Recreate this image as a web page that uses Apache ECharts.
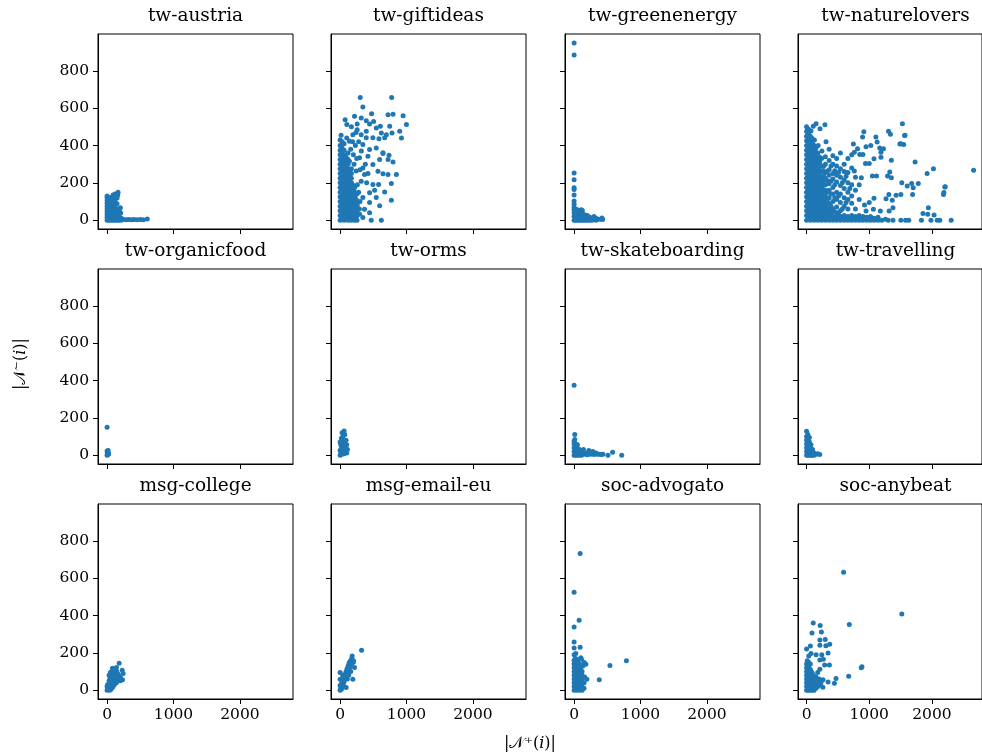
<!DOCTYPE html>
<html>
<head>
<meta charset="utf-8">
<script src="https://cdn.jsdelivr.net/npm/echarts@6/dist/echarts.min.js"></script>
<style>
  html, body { margin: 0; padding: 0; background: #fff; }
  #chart { width: 982px; height: 755px; }
</style>
</head>
<body>
<div id="chart"></div>
<script>
// degree scatter: |N+(i)| (x) against |N-(i)| (y), one panel per dataset
const panelNames = [
  "tw-austria", "tw-giftideas", "tw-greenenergy", "tw-naturelovers",
  "tw-organicfood", "tw-orms", "tw-skateboarding", "tw-travelling",
  "msg-college", "msg-email-eu", "soc-advogato", "soc-anybeat"
];

const xTicks = [0, 1000, 2000];
const yTicks = [0, 200, 400, 600, 800];

const austria = [
  [0,0],[0,15],[0,30],[0,45],[0,60],[0,75],[0,90],[0,105],[0,120],[0,130],
  [30,0],[30,15],[30,30],[30,45],[30,60],[30,75],[30,90],[30,105],[30,115],
  [60,0],[60,15],[60,30],[60,45],[60,60],[60,75],[60,90],[60,100],[60,122],
  [90,0],[90,15],[90,30],[90,45],[90,60],[90,75],[90,92],[90,110],[90,135],
  [120,0],[120,15],[120,30],[120,45],[120,62],[120,80],[120,100],[120,125],[120,140],
  [150,0],[150,18],[150,38],[150,60],[150,88],[150,118],[165,150],[160,135],
  [180,0],[180,15],[180,32],[185,55],
  [210,0],[210,12],[205,38],[200,66],
  [245,4],[285,2],[325,4],[365,2],[405,3],[450,2],[500,3],[545,2],[605,6]
];

const giftideas = [
  [0,0],[0,25],[0,50],[0,75],[0,100],[0,125],[0,150],[0,175],[0,200],[0,225],[0,250],
  [0,275],[0,300],[0,325],[0,350],[0,375],[0,400],
  [30,12],[30,37],[30,62],[30,87],[30,112],[30,137],[30,162],[30,187],[30,212],[30,237],
  [30,262],[30,287],[30,312],[30,337],[30,362],[30,387],
  [60,0],[60,25],[60,50],[60,75],[60,100],[60,125],[60,150],[60,175],[60,200],[60,225],
  [60,250],[60,275],[60,300],[60,325],[60,350],[60,375],
  [90,12],[90,37],[90,62],[90,87],[90,112],[90,137],[90,162],[90,187],[90,212],[90,237],
  [90,262],[90,287],[90,312],[90,337],
  [120,0],[120,25],[120,50],[120,75],[120,100],[120,125],[120,150],[120,175],[120,200],
  [120,225],[120,250],[120,275],[120,300],[120,325],
  [145,12],[145,37],[145,62],[145,87],[145,112],[145,137],[145,162],[145,187],[145,212],
  [145,237],[145,262],
  [170,0],[170,25],[170,50],[170,75],[170,100],[170,125],[170,150],[170,175],[170,200],
  [170,225],[170,250],[170,275],
  [195,12],[195,37],[195,62],[195,87],[195,112],[195,137],[195,162],[195,187],
  [220,0],[220,25],[220,50],[220,75],[220,100],[220,125],[220,150],[220,175],
  [240,12],[240,37],[240,62],[240,87],[240,112],
  [255,0],[255,25],[255,50],[255,75],[255,100],[255,140],
  [303,657],[777,657],[343,606],[474,570],[722,565],[797,568],[949,560],[999,512],
  [898,476],[924,440],[747,503],[782,467],[848,245],[772,107],[621,0],[469,0],
  [343,14],[596,77],[444,40],[671,151],[772,197],[797,312],[737,348],[646,357],
  [76,538],[101,512],[217,557],[318,548],[394,533],[257,515],[444,515],[505,529],
  [545,494],[606,503],[621,467],[697,458],[671,441],[585,436],[494,441],[394,476],
  [318,458],[192,458],[141,423],[15,455],[0,430],[343,405],[444,378],[545,387],
  [646,361],[596,325],[494,298],[722,325],[570,262],[646,248],[722,245],[580,191],
  [494,191],[444,147],[545,121],[444,94],[368,58],[343,121],[318,209],[343,280],
  [419,342],[293,334],[242,263],[368,245],[141,316],[394,441],[257,485],[293,32],
  [257,85],[520,160],[230,400],[280,150],[210,300],[260,190],[60,410],[100,440],
  [200,350],[160,380],[280,420],[300,270],[380,300],[240,470],[170,500],[320,370],
  [30,420],[120,360],[250,330],[290,60],[300,100],[190,420],[400,200],[420,250]
];

const greenenergy = [
  [0,949],[0,885],[0,253],[0,217],[0,174],[0,164],[0,135],[0,103],[0,85],[0,68],
  [0,0],[0,20],[0,40],[0,55],[25,0],[25,20],[25,40],[25,58],[50,0],[50,20],[50,40],[50,55],
  [80,0],[80,18],[80,35],[80,52],[110,0],[110,20],[110,40],[110,55],[125,50],
  [140,0],[140,15],[140,30],[170,0],[170,15],[170,28],[200,0],[200,12],[200,25],
  [235,0],[235,15],[270,0],[270,10],[300,5],[300,20],[330,0],[330,10],[360,5],
  [395,5],[420,12],[430,3]
];

const naturelovers = [
  [0,0],[0,25],[0,50],[0,75],[0,100],[0,125],[0,150],[0,175],[0,200],[0,225],[0,250],
  [0,275],[0,300],[0,325],[0,350],[0,375],[0,400],[0,425],[0,450],[0,475],[0,500],
  [30,12],[30,37],[30,62],[30,87],[30,112],[30,137],[30,162],[30,187],[30,212],[30,237],
  [30,262],[30,287],[30,312],[30,337],[30,362],[30,387],[30,412],[30,437],[30,462],[30,487],
  [60,0],[60,25],[60,50],[60,75],[60,100],[60,125],[60,150],[60,175],[60,200],[60,225],
  [60,250],[60,275],[60,300],[60,325],[60,350],[60,375],[60,400],[60,425],[60,450],[70,478],
  [90,12],[90,37],[90,62],[90,87],[90,112],[90,137],[90,162],[90,187],[90,212],[90,237],
  [90,262],[90,287],[90,312],[90,337],[90,362],[90,387],[90,412],[90,437],
  [120,0],[120,25],[120,50],[120,75],[120,100],[120,125],[120,150],[120,175],[120,200],
  [120,225],[120,250],[120,275],[120,300],[120,325],[120,350],[120,375],[120,400],[125,430],
  [150,12],[150,37],[150,62],[150,87],[150,112],[150,137],[150,162],[150,187],[150,212],
  [150,237],[150,262],[150,287],[150,312],[150,337],[150,362],[150,387],
  [180,0],[180,25],[180,50],[180,75],[180,100],[180,125],[180,150],[180,175],[180,200],
  [180,225],[180,250],[180,275],[180,300],[180,330],[180,360],[185,400],
  [210,12],[210,37],[210,62],[210,87],[210,112],[210,137],[210,162],[210,187],[210,212],
  [210,237],[210,262],[210,287],[210,312],[210,337],
  [240,0],[240,25],[240,50],[240,75],[240,100],[240,125],[240,150],[240,175],[240,200],
  [240,230],[240,260],[240,290],[240,330],[245,370],
  [270,12],[270,37],[270,62],[270,87],[270,112],[270,137],[270,162],[270,187],[270,212],
  [270,237],[270,262],[270,287],
  [300,0],[300,25],[300,50],[300,75],[300,100],[300,130],[300,160],[300,190],[300,225],
  [300,255],[300,300],[300,340],[310,420],
  [330,12],[330,37],[330,62],[330,87],[330,112],[330,150],[330,212],[330,262],
  [360,0],[360,25],[360,55],[360,90],[360,120],[360,160],[360,195],[360,240],[360,270],
  [360,320],[360,380],
  [390,10],[390,40],[390,75],[390,140],[390,210],[390,290],
  [420,0],[420,20],[420,60],[420,100],[420,140],[420,175],[420,220],[420,250],[420,300],[420,345],
  [450,12],[450,45],[450,120],[450,190],[450,265],
  [480,0],[480,25],[480,70],[480,110],[480,150],[480,205],[480,240],[480,290],[480,330],
  [510,10],[510,40],[510,130],[510,255],
  [540,0],[540,20],[540,50],[540,95],[540,140],[540,185],[540,230],[540,275],[540,360],
  [570,10],[570,60],[570,200],
  [600,0],[600,25],[600,75],[600,120],[600,170],[600,215],[600,260],[600,300],
  [630,10],[630,95],[630,235],
  [660,0],[660,20],[660,60],[660,110],[660,150],[660,200],[660,255],[660,330],
  [690,10],[690,170],
  [720,0],[720,25],[720,90],[720,130],[720,190],[720,280],[720,350],
  [750,10],[780,0],[780,20],[780,60],[780,160],[780,230],[810,10],
  [840,0],[840,25],[840,110],[840,190],[870,10],
  [900,0],[900,20],[960,0],[960,15],[1020,0],[1020,20],[1080,0],[1080,10],[1140,0],
  [1140,15],[1200,0],[1260,5],
  [15,485],[152,517],[215,490],[293,511],[106,503],
  [1530,517],[914,473],[1308,476],[1338,460],[894,446],[1106,446],[1571,455],[1490,408],
  [1550,405],[747,408],[1126,419],[1167,387],[1227,382],[949,393],[1025,400],[813,382],
  [899,352],[849,352],[762,364],[1076,329],[1187,337],[1187,364],[1353,321],[1732,311],
  [940,304],[1000,304],[2025,276],[1924,250],[2666,268],[1328,258],[1293,236],[1353,227],
  [1116,236],[1050,236],[874,227],[762,263],[646,254],[1520,201],[1606,183],[1783,197],
  [1702,174],[2212,179],[2186,138],[1692,138],[1505,138],[1429,133],[1313,138],[1368,106],
  [1268,115],[1076,117],[1000,94],[924,81],[1379,67],[1944,67],[1318,49],[1177,49],
  [1066,58],[949,49],[1858,35],[1934,32],[2035,28],[2126,0],[2086,0],[1985,0],
  [1833,0],[1631,0],[1581,0],[1505,0],[1379,0],[1303,0],[2308,0],[2192,148],[2207,178],
  [1677,196],[1565,454],[1505,409]
];

const organicfood = [
  [0,0],[5,8],[12,3],[18,12],[8,18],[0,22],[15,25],[22,6],[3,12],[10,10],[0,150]
];

const orms = [
  [0,0],[15,10],[30,5],[45,15],[60,8],[80,20],[100,12],[0,25],[20,35],[40,30],[60,45],
  [80,40],[100,55],[10,55],[30,65],[50,75],[70,60],[90,80],[20,90],[45,100],[70,110],
  [60,130],[30,120],[0,70],[110,30]
];

const skateboarding = [
  [0,374],[10,110],[10,84],[0,0],[0,20],[0,40],[0,60],[0,75],[25,0],[25,20],[25,40],[25,60],
  [50,0],[50,18],[50,35],[50,55],[80,0],[80,15],[80,30],[110,0],[110,12],[141,30],[150,5],
  [180,10],[222,25],[200,2],[250,5],[283,20],[300,3],[333,12],[350,5],[384,5],[410,3],
  [434,5],[510,0],[580,16],[717,0]
];

const travelling = [
  [0,0],[0,20],[0,40],[0,60],[0,80],[0,100],[0,128],[20,0],[20,20],[20,40],[20,60],[20,85],
  [20,110],[45,0],[45,20],[45,45],[45,70],[45,95],[70,0],[70,15],[70,35],[70,55],[95,0],
  [95,15],[95,30],[120,0],[120,12],[150,5],[180,8],[210,3]
];

const college = [
  [0,0],[10,10],[20,5],[20,25],[35,15],[35,35],[50,20],[50,45],[65,30],[65,55],[80,40],
  [80,70],[95,45],[95,80],[110,55],[110,90],[125,60],[125,95],[140,70],[145,100],[160,80],
  [0,20],[10,30],[30,50],[45,65],[60,80],[81,117],[141,121],[182,144],[227,107],[242,89],
  [232,55],[167,85],[120,110],[100,100],[180,60],[200,70],[150,50],[30,80],[50,95],
  [70,100],[90,110],[60,60],[100,70],[120,75],[140,40],[170,55],[200,50],[110,30],[90,20],
  [40,0],[60,5],[80,15]
];

const emailEu = [
  [0,0],[10,10],[20,5],[0,25],[15,30],[30,20],[30,40],[45,35],[45,55],[60,45],[60,70],
  [75,60],[75,85],[90,70],[90,100],[105,85],[105,115],[120,100],[120,130],[135,115],
  [135,145],[150,125],[150,155],[170,140],[175,170],[182,183],[202,157],[217,121],
  [192,59],[91,14],[0,59],[0,94],[323,214],[160,100],[40,80],[20,60],[60,20],[110,60],
  [200,150],[130,80]
];

const advogato = [
  [91,732],[0,525],[76,374],[0,338],[0,258],[0,226],[91,230],[540,132],[788,158],[379,55],[192,59],
  [0,0],[0,20],[0,40],[0,60],[0,80],[0,100],[0,120],[0,140],[0,160],[0,189],
  [20,10],[20,30],[20,50],[20,70],[20,90],[20,110],[20,130],[20,150],[20,170],
  [40,0],[40,20],[40,40],[40,60],[40,80],[40,100],[40,120],[40,140],[40,165],[25,196],
  [60,10],[60,30],[60,50],[60,70],[60,90],[60,110],[60,130],[60,150],
  [80,0],[80,20],[80,40],[80,60],[80,80],[80,100],[80,120],[80,140],[101,174],[111,165],
  [100,10],[100,30],[100,50],[100,70],[100,90],[100,110],[100,130],
  [120,0],[120,20],[120,40],[120,60],[120,80],[120,100],[130,130],[152,148],[177,139],
  [150,40],[160,70],[150,10]
];

const anybeat = [
  [591,632],[1520,408],[682,352],[106,360],[217,347],[86,306],[237,312],[298,271],[212,269],
  [369,246],[308,238],[212,240],[61,237],[0,221],[343,199],[242,189],[267,166],[212,162],
  [152,189],[71,196],[35,183],[364,135],[288,135],[884,125],[872,120],[672,75],[470,62],
  [444,37],[343,44],[263,55],[202,27],[111,5],[177,94],[212,112],
  [0,0],[0,20],[0,40],[0,60],[0,80],[0,100],[0,120],[0,140],[30,0],[30,20],[30,40],[30,60],
  [30,80],[30,100],[30,125],[30,150],[60,0],[60,20],[60,40],[60,60],[60,85],[60,110],[60,140],
  [90,0],[90,20],[90,40],[90,65],[90,90],[120,0],[120,25],[120,50],[120,75],[150,10],[150,40],
  [180,20],[200,60],[150,70],[230,40],[260,15],[180,50],[10,157],
  [15,10],[15,30],[15,50],[15,70],[15,90],[15,110],[15,130],
  [45,10],[45,30],[45,50],[45,70],[45,90],[45,115],
  [75,10],[75,30],[75,50],[75,75],[75,100],[105,10],[105,30],[105,55]
];

const panelData = [
  austria, giftideas, greenenergy, naturelovers,
  organicfood, orms, skateboarding, travelling,
  college, emailEu, advogato, anybeat
];

// layout (pixels)
const colLeft = [98, 331, 565, 798];
const rowTop = [34, 269, 504];
const panelW = 195;
const panelH = 195;
const serif = "'DejaVu Serif', serif";
const dotColor = "#1f77b4";
const tickFont = 15.5;
const titleFont = 18.5;

const chart = echarts.init(document.getElementById("chart"), null, { renderer: "canvas" });

const grids = [], xAxes = [], yAxes = [], titles = [], series = [];
panelNames.forEach((name, i) => {
  const col = i % 4, row = Math.floor(i / 4);
  grids.push({
    left: colLeft[col], top: rowTop[row], width: panelW, height: panelH,
    show: true, borderColor: "#000", borderWidth: 1, backgroundColor: "transparent"
  });
  xAxes.push({
    gridIndex: i, type: "value", min: -137, max: 2800,
    axisLine: { show: true, onZero: false, lineStyle: { color: "#000", width: 1 } },
    splitLine: { show: false },
    axisTick: { show: true, length: 5, lineStyle: { color: "#000" }, customValues: xTicks },
    axisLabel: {
      show: row === 2, customValues: xTicks, margin: 8, formatter: (v) => String(v),
      fontFamily: serif, fontSize: tickFont, color: "#000"
    }
  });
  yAxes.push({
    gridIndex: i, type: "value", min: -47.5, max: 997.5,
    axisLine: { show: true, onZero: false, lineStyle: { color: "#000", width: 1 } },
    splitLine: { show: false },
    axisTick: { show: true, length: 5, lineStyle: { color: "#000" }, customValues: yTicks },
    axisLabel: {
      show: col === 0, customValues: yTicks, margin: 9, formatter: (v) => String(v),
      fontFamily: serif, fontSize: tickFont, color: "#000"
    }
  });
  titles.push({
    text: name, left: colLeft[col] + panelW / 2, top: rowTop[row] - 27,
    textAlign: "center", padding: 0,
    textStyle: { fontFamily: serif, fontSize: titleFont, fontWeight: "normal", color: "#000" }
  });
  series.push({
    type: "scatter", xAxisIndex: i, yAxisIndex: i, data: panelData[i],
    symbolSize: 5, silent: true,
    itemStyle: { color: dotColor, opacity: 1 }
  });
});

const labelRich = {
  t: { fontFamily: serif, fontSize: 16, fill: "#000" },
  it: { fontFamily: serif, fontSize: 16, fontStyle: "italic", fill: "#000" }
};

chart.setOption({
  animation: false,
  backgroundColor: "#fff",
  title: titles,
  grid: grids,
  xAxis: xAxes,
  yAxis: yAxes,
  series: series,
  graphic: [
    {
      type: "text", x: 530, y: 744,
      style: {
        text: "{t||\u{1D4A9}\u207A(}{it|i}{t|)|}", rich: labelRich,
        textAlign: "center", textVerticalAlign: "middle", fill: "#000"
      }
    },
    {
      type: "text", x: 21, y: 364, rotation: Math.PI / 2,
      style: {
        text: "{t||\u{1D4A9}\u207B(}{it|i}{t|)|}", rich: labelRich,
        textAlign: "center", textVerticalAlign: "middle", fill: "#000"
      }
    }
  ]
});
</script>
</body>
</html>
